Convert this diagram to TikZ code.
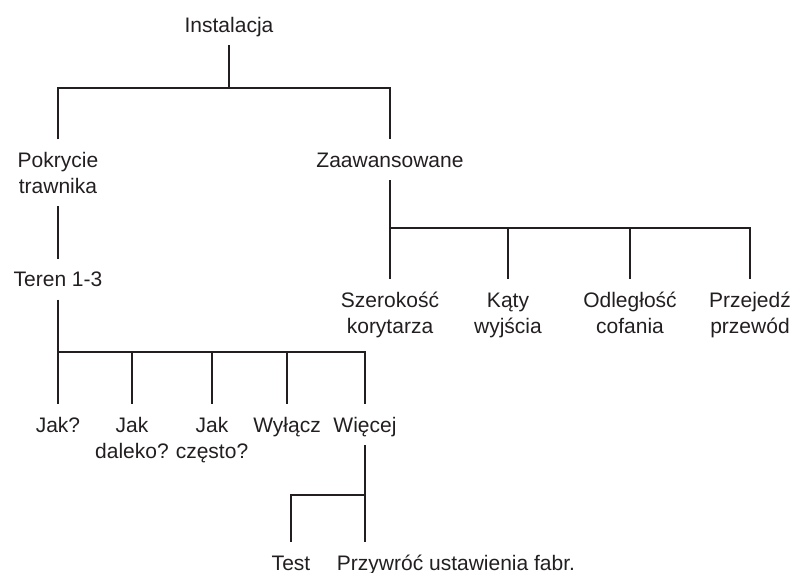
\documentclass[tikz,border=0pt]{standalone}
\usepackage{fontspec}
\setmainfont{Liberation Sans}
\usepackage{tikz}
\usetikzlibrary{positioning,calc}
\definecolor{ink}{HTML}{231F20}

\begin{document}
\begin{tikzpicture}[x=1pt, y=-1pt,
    txt/.style={font=\fontsize{21}{26}\selectfont, text=ink, anchor=base, align=center,
      inner sep=0pt, outer ysep=13pt, text height=15pt, text depth=0pt},
    txttwo/.style={txt, text height=41pt},
    wire/.style={draw=ink, line width=2.8pt}]
  \useasboundingbox (0,0) rectangle (793,573);

  % top level
  \node[txt] (inst) at (229,32.3) {Instalacja};
  \node[txttwo] (pokr) at (58,193.3) {Pokrycie\\trawnika};
  \node[txt] (zaaw) at (390,167.3) {Zaawansowane};
  \coordinate (j1) at (229,88);

  \draw[wire] (inst) -- (j1);
  \draw[wire] (pokr.north) |- (j1) -| (zaaw.north);

  % Zaawansowane
  \node[txttwo] (szer) at (390,333.3) {Szerokość\\korytarza};
  \node[txttwo] (katy) at (508,333.3) {Kąty\\wyjścia};
  \node[txttwo] (odl) at (630,333.3) {Odległość\\cofania};
  \node[txttwo] (przej) at (750,333.3) {Przejedź\\przewód};
  \coordinate (j2) at (390,228);

  \draw[wire] (zaaw) -- (j2);
  \draw[wire] (j2) -- (szer);
  \draw[wire] (j2) -| (przej.north);
  \draw[wire] (katy.north |- j2) -- (katy);
  \draw[wire] (odl.north |- j2) -- (odl);

  % Pokrycie trawnika / Teren 1-3
  \node[txt] (teren) at (58,286.7) {Teren 1-3};
  \draw[wire] (pokr) -- (teren);

  \node[txt] (jak) at (58,432.3) {Jak?};
  \node[txttwo] (jakdal) at (132,458.3) {Jak\\daleko?};
  \node[txttwo] (jakcz) at (212,458.3) {Jak\\często?};
  \node[txt] (wyl) at (287,432.3) {Wyłącz};
  \node[txt] (wiec) at (365,432.3) {Więcej};
  \coordinate (j3) at (58,352);

  \draw[wire] (teren) -- (j3);
  \draw[wire] (j3) -- (jak);
  \draw[wire] (j3) -| (wiec.north);
  \draw[wire] (jakdal.north |- j3) -- (jakdal);
  \draw[wire] (jakcz.north |- j3) -- (jakcz);
  \draw[wire] (wyl.north |- j3) -- (wyl);

  % Więcej
  \node[txt] (test) at (291,570) {Test};
  \node[txt] (przyw) at (456,570) {Przywróć ustawienia fabr.};
  \coordinate (j4) at (365,495);

  \draw[wire] (wiec) -- (wiec |- przyw.north);
  \draw[wire] (j4) -| (test.north);
\end{tikzpicture}
\end{document}
